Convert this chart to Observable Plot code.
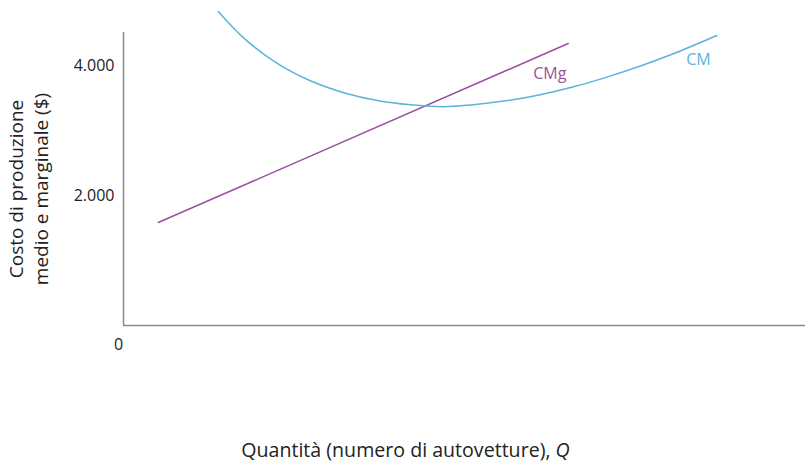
<!DOCTYPE html>
<html>
<head>
<meta charset="utf-8">
<script src="https://cdn.jsdelivr.net/npm/d3@7"></script>
<script src="https://cdn.jsdelivr.net/npm/@observablehq/plot@0.6"></script>
<style>
  html, body { margin: 0; padding: 0; background: #fff; }
  #chart { width: 810px; height: 472px; }
</style>
</head>
<body>
<div id="chart"></div>
<script>
// Marginal cost (CMg): straight line
const cmgQ = [5.1, 65.2];
const cmgC = [1585, 4338];

// Average cost (CM): U-shaped curve
const cmQ = [13.9, 17.6, 22.6, 27.4, 32.3, 37.2, 42.1, 46.9, 51.3, 56.3, 61.1, 66.0, 71.0, 75.8, 80.6, 87.0];
const cmC = [4831, 4426, 4029, 3765, 3582, 3462, 3395, 3365, 3397, 3460, 3551, 3672, 3825, 3992, 4180, 4462];

// Curve labels
const labelNames = ["CMg", "CM"];
const labelQ = [62.5, 84.3];
const labelC = [3877, 4092];

// Axis ticks
const yTicks = [2000, 4000];
const yTickLabels = ["2.000", "4.000"];

const yTitle = "Costo di produzione\nmedio e marginale ($)";
const xTitle = "Quantità (numero di autovetture),";
const xTitleVar = "Q";

const colCMg = "#9b4fa1";
const colCM = "#5bb4d9";
const axisCol = "#8a8a8a";
const textCol = "#222";

const cmg = cmgQ.map((q, i) => ({q, c: cmgC[i]}));
const cm = cmQ.map((q, i) => ({q, c: cmC[i]}));
const labels = labelNames.map((n, i) => ({n, q: labelQ[i], c: labelC[i], col: i === 0 ? colCMg : colCM}));

const chart = Plot.plot({
  width: 810,
  height: 472,
  marginLeft: 123,
  marginRight: 5,
  marginTop: 32,
  marginBottom: 147,
  style: {fontFamily: "'Open Sans', sans-serif", background: "#fff", overflow: "visible"},
  x: {domain: [0, 100], axis: null},
  y: {domain: [0, 4508], axis: null},
  marks: [
    Plot.ruleX([0], {stroke: axisCol, strokeWidth: 1.5}),
    Plot.ruleY([0], {stroke: axisCol, strokeWidth: 1.5}),
    Plot.axisY(yTicks, {
      tickSize: 0, tickPadding: 9, fontSize: 16, fill: textCol,
      tickFormat: (d) => yTickLabels[yTicks.indexOf(d)], label: null
    }),
    Plot.text(["0"], {x: () => 0, y: () => 0, dx: -5, dy: 19, fontSize: 16, fill: textCol}),
    Plot.line(cmg, {x: "q", y: "c", stroke: colCMg, strokeWidth: 1.5}),
    Plot.line(cm, {x: "q", y: "c", stroke: colCM, strokeWidth: 1.5, curve: "catmull-rom"}),
    Plot.text(labels, {x: "q", y: "c", text: "n", fontSize: 16, fill: "col"}),
    Plot.text([yTitle], {frameAnchor: "left", textAnchor: "middle", lineAnchor: "middle",
      rotate: -90, dx: -96, dy: 10, fontSize: 19, lineHeight: 1.3, fill: textCol}),
    Plot.text([xTitle], {frameAnchor: "bottom", lineAnchor: "middle", dx: 86, dy: 125, textAnchor: "end",
      fontSize: 19.6, fill: textCol}),
    Plot.text([xTitleVar], {frameAnchor: "bottom", lineAnchor: "middle", dx: 91, dy: 125, textAnchor: "start",
      fontSize: 19.6, fontStyle: "italic", fill: textCol})
  ]
});
document.getElementById("chart").appendChild(chart);
</script>
</body>
</html>
